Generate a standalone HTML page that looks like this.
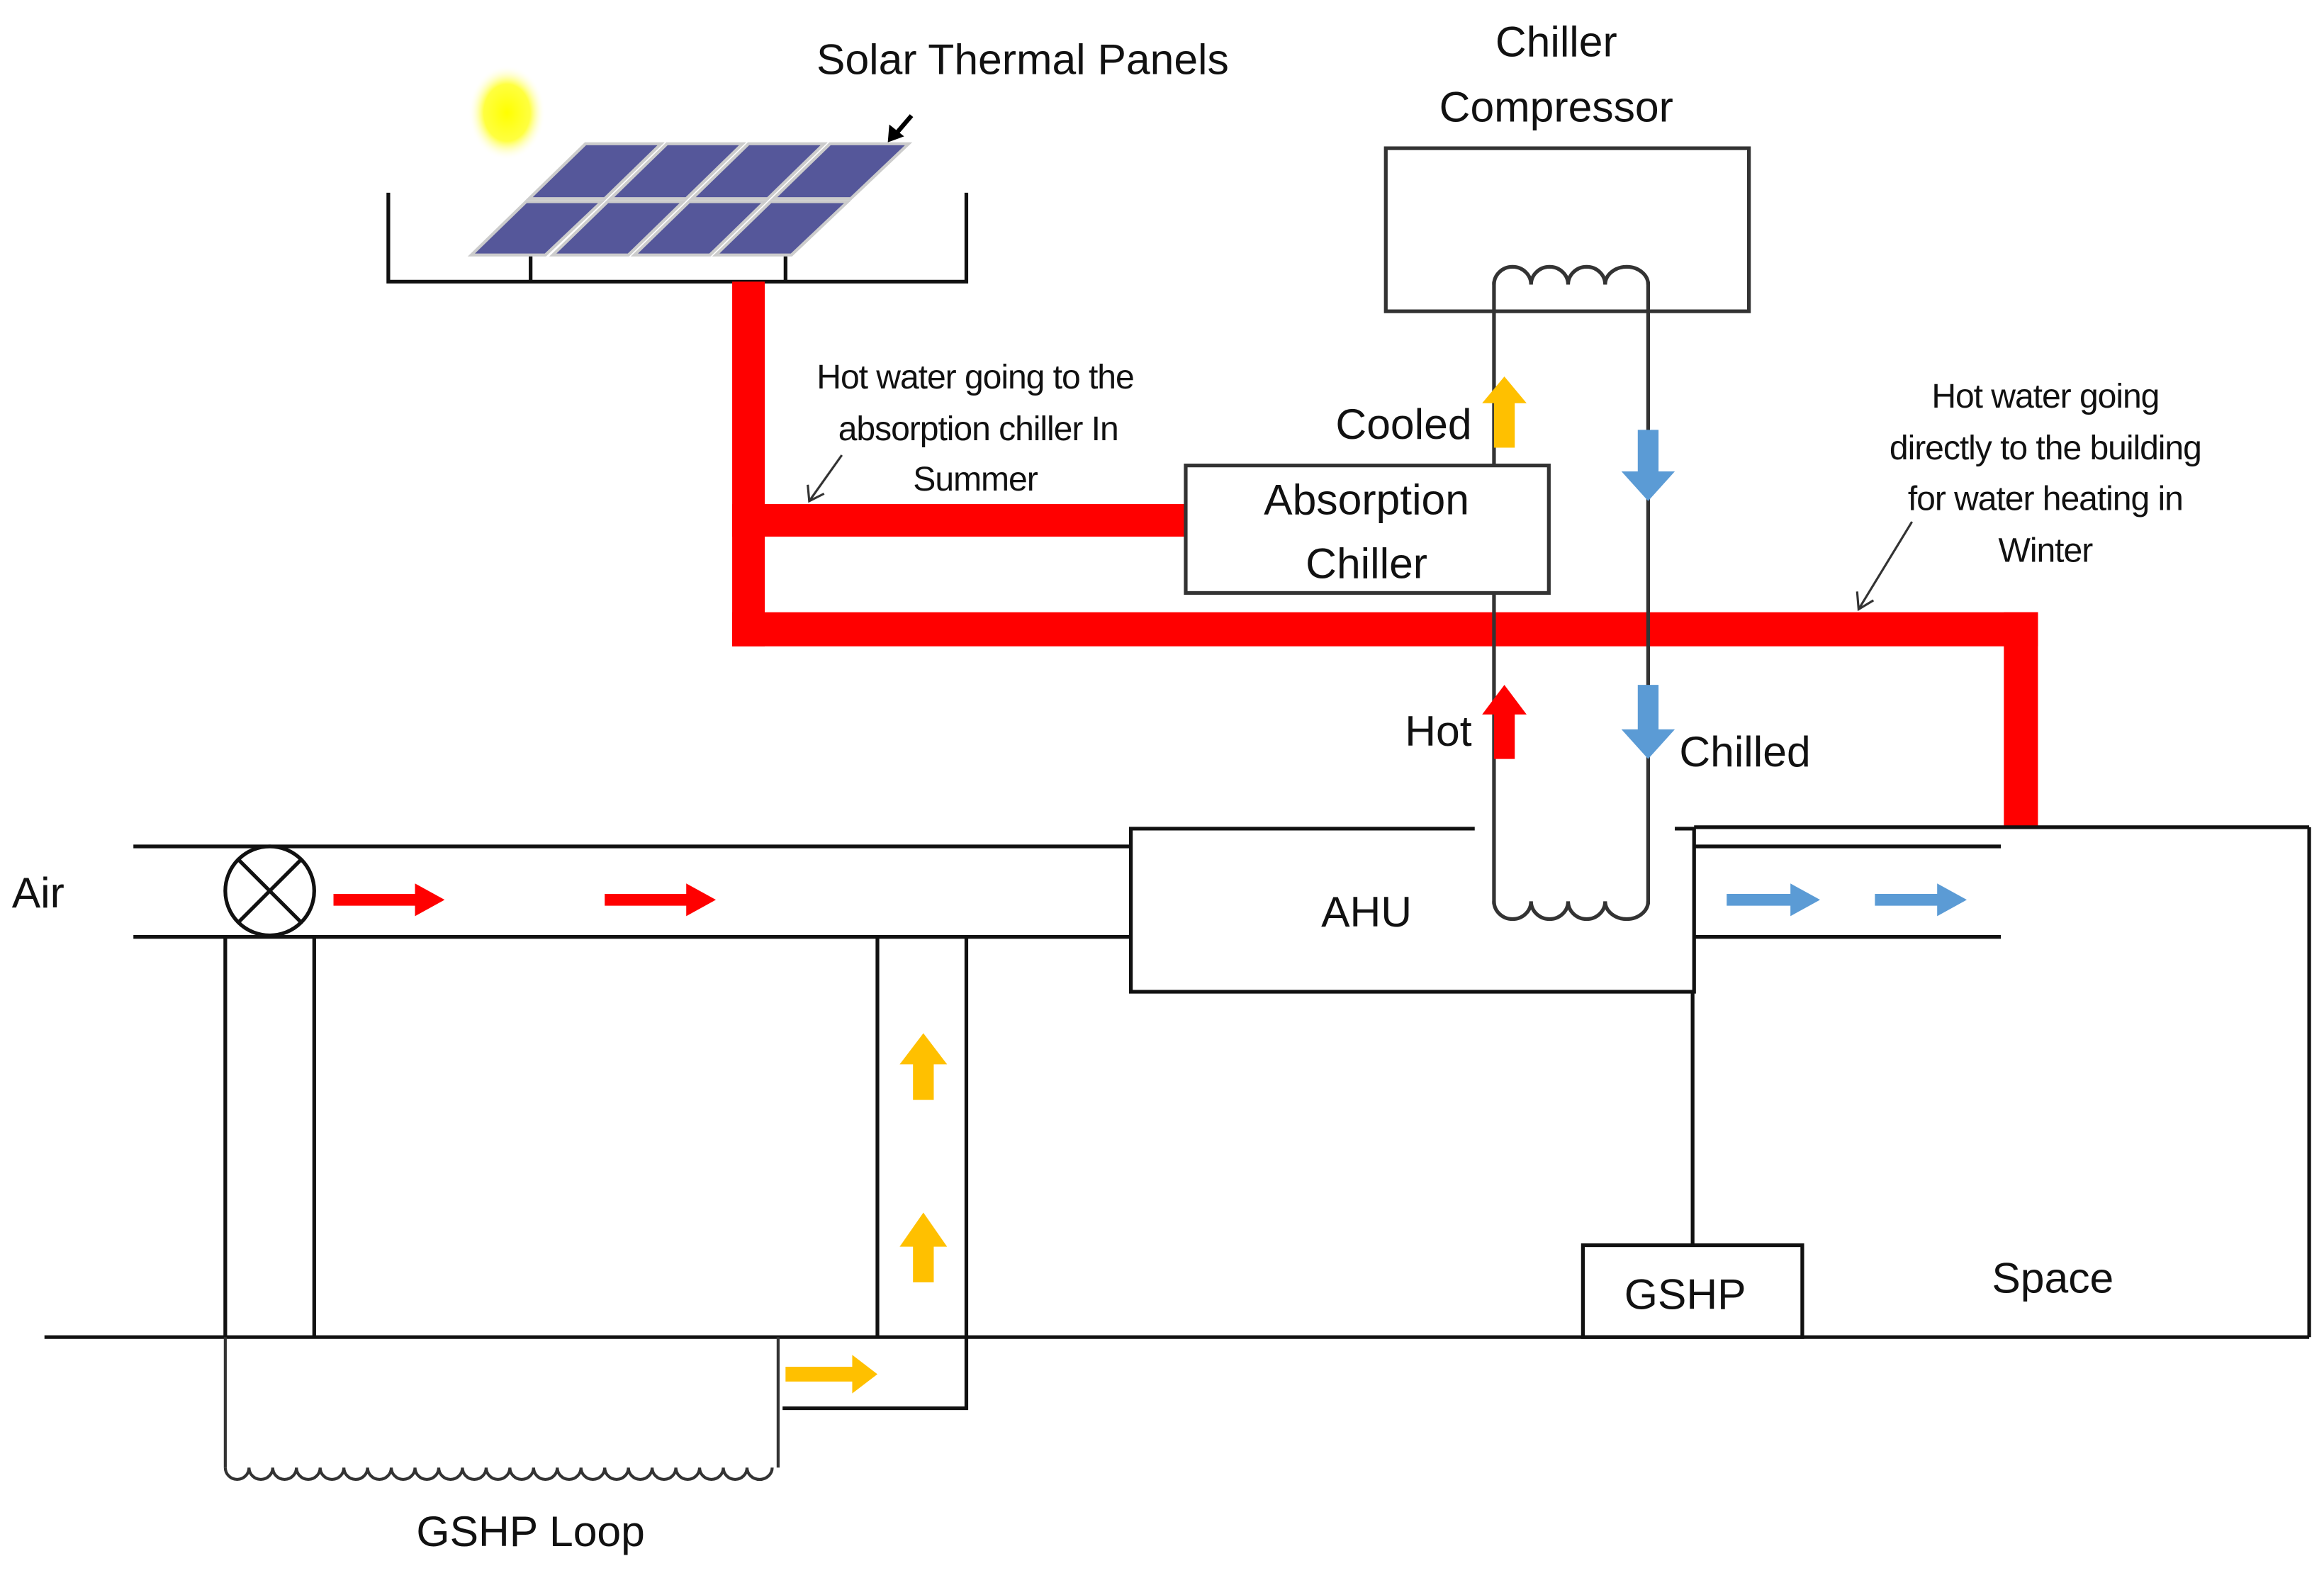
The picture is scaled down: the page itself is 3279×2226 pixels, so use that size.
<!DOCTYPE html>
<html><head><meta charset="utf-8"><style>
html,body{margin:0;padding:0;background:#fff}
svg{display:block}
text{font-family:"Liberation Sans",sans-serif;fill:#111}
.n{font-size:29px;text-anchor:middle}
.s{font-size:23px;text-anchor:middle;letter-spacing:-0.5px}
</style></head><body>
<svg width="3279" height="2226" viewBox="0 0 1568 1064.5" preserveAspectRatio="none" xmlns="http://www.w3.org/2000/svg">
<defs>
<radialGradient id="sun"><stop offset="0" stop-color="#ffff00"/><stop offset="0.6" stop-color="#ffff40"/><stop offset="1" stop-color="#fff" stop-opacity="0"/></radialGradient>
</defs>
<rect width="1568" height="1064.5" fill="#fff"/>
<ellipse cx="342" cy="76" rx="26" ry="32" fill="url(#sun)"/>
<g stroke="#111" stroke-width="2.5" fill="none">
<polyline points="262,130 262,190 652,190 652,130"/>
<line x1="358" y1="172" x2="358" y2="190"/><line x1="530" y1="172" x2="530" y2="190"/>
</g>
<g fill="#55579a" stroke="#ccc" stroke-width="2">
<polygon points="395,97 446,97 408,134 357,134"/><polygon points="450,97 501,97 463,134 412,134"/><polygon points="505,97 556,97 518,134 467,134"/><polygon points="560,97 613,97 574,134 522,134"/>
<polygon points="355,136 406,136 368,172 318,172"/><polygon points="410,136 461,136 424,172 373,172"/><polygon points="465,136 516,136 479,172 428,172"/><polygon points="520,136 572,136 534,172 483,172"/>
</g>
<line x1="615" y1="78" x2="603" y2="92" stroke="#000" stroke-width="3"/><polygon points="599,96 600,84 610,92" fill="#000"/>
<text class="n" x="690" y="50">Solar Thermal Panels</text>
<text class="n" x="1050" y="38">Chiller</text>
<text class="n" x="1050" y="82">Compressor</text>
<g fill="#ff0000">
<rect x="494" y="190" width="22" height="246"/>
<rect x="494" y="413" width="881" height="23"/>
<rect x="1352" y="413" width="23" height="146"/>
<rect x="494" y="340" width="306" height="22"/>
</g>
<g stroke="#333" stroke-width="2.5" fill="none">
<rect x="935" y="100" width="245" height="110"/>
<line x1="1008" y1="190" x2="1008" y2="610"/>
<line x1="1112" y1="190" x2="1112" y2="610"/>
<path d="M1008,192 a12.5,12 0 0 1 25,0 a12.5,12 0 0 1 25,0 a12.5,12 0 0 1 25,0 a14.5,12 0 0 1 29,0"/>
<path d="M1008,608 a12.5,12 0 0 0 25,0 a12.5,12 0 0 0 25,0 a12.5,12 0 0 0 25,0 a14.5,12 0 0 0 29,0"/>
</g>
<rect x="800" y="314" width="245" height="86" fill="#fff" stroke="#333" stroke-width="2.5"/>
<text class="n" x="922" y="347">Absorption</text>
<text class="n" x="922" y="390">Chiller</text>
<polygon points="1008,302 1008,272 1000,272 1015,254 1030,272 1022,272 1022,302" fill="#ffc000"/>
<polygon points="1105,290 1119,290 1119,318 1130,318 1112,338 1094,318 1105,318" fill="#5b9bd5"/>
<polygon points="1008,512 1008,482 1000,482 1015,462 1030,482 1022,482 1022,512" fill="#ff0000"/>
<polygon points="1105,462 1119,462 1119,492 1130,492 1112,512 1094,492 1105,492" fill="#5b9bd5"/>
<text class="n" x="993" y="296" style="text-anchor:end">Cooled</text>
<text class="n" x="993" y="503" style="text-anchor:end">Hot</text>
<text class="n" x="1133" y="517" style="text-anchor:start">Chilled</text>
<text class="s" x="658" y="262">Hot water going to the</text>
<text class="s" x="660" y="297">absorption chiller In</text>
<text class="s" x="658" y="331">Summer</text>
<g stroke="#333" stroke-width="1.5" fill="none">
<line x1="568" y1="307" x2="546" y2="338"/><polyline points="545,327 546,338 556,333"/>
<line x1="1290" y1="352" x2="1254" y2="411"/><polyline points="1253,399 1254,411 1264,405"/>
</g>
<text class="s" x="1380" y="275">Hot water going</text>
<text class="s" x="1380" y="310">directly to the building</text>
<text class="s" x="1380" y="344">for water heating in</text>
<text class="s" x="1380" y="379">Winter</text>
<g stroke="#111" stroke-width="2.5" fill="none">
<line x1="90" y1="571" x2="763" y2="571"/>
<line x1="90" y1="632" x2="763" y2="632"/>
<polyline points="995,559 763,559 763,669 1143,669 1143,559 1130,559"/>
<line x1="1143" y1="558" x2="1558" y2="558"/>
<line x1="1558" y1="558" x2="1558" y2="902"/>
<line x1="1143" y1="571" x2="1350" y2="571"/>
<line x1="1143" y1="632" x2="1350" y2="632"/>
<line x1="30" y1="902" x2="1558" y2="902"/>
<line x1="152" y1="632" x2="152" y2="902"/>
<line x1="212" y1="632" x2="212" y2="902"/>
<line x1="592" y1="632" x2="592" y2="902"/>
<polyline points="652,632 652,950 528,950"/>
<line x1="1142" y1="669" x2="1142" y2="840"/>
<rect x="1068" y="840" width="148" height="62"/>
<circle cx="182" cy="601" r="30" fill="#fff"/>
<line x1="161" y1="580" x2="203" y2="622"/><line x1="203" y1="580" x2="161" y2="622"/>
</g>
<g stroke="#333" stroke-width="2" fill="none">
<line x1="152" y1="902" x2="152" y2="990"/>
<line x1="525" y1="902" x2="525" y2="990"/>
<path d="M152,990 a8,8 0 0 0 16,0 a8,8 0 0 0 16,0 a8,8 0 0 0 16,0 a8,8 0 0 0 16,0 a8,8 0 0 0 16,0 a8,8 0 0 0 16,0 a8,8 0 0 0 16,0 a8,8 0 0 0 16,0 a8,8 0 0 0 16,0 a8,8 0 0 0 16,0 a8,8 0 0 0 16,0 a8,8 0 0 0 16,0 a8,8 0 0 0 16,0 a8,8 0 0 0 16,0 a8,8 0 0 0 16,0 a8,8 0 0 0 16,0 a8,8 0 0 0 16,0 a8,8 0 0 0 16,0 a8,8 0 0 0 16,0 a8,8 0 0 0 16,0 a8,8 0 0 0 16,0 a8,8 0 0 0 16,0 a8.5,8 0 0 0 17,0"/>
</g>
<polygon points="225,603 280,603 280,596 300,607 280,618 280,611 225,611" fill="#ff0000"/>
<polygon points="408,603 463,603 463,596 483,607 463,618 463,611 408,611" fill="#ff0000"/>
<polygon points="1165,603 1208,603 1208,596 1228,607 1208,618 1208,611 1165,611" fill="#5b9bd5"/>
<polygon points="1265,603 1307,603 1307,596 1327,607 1307,618 1307,611 1265,611" fill="#5b9bd5"/>
<polygon points="530,922 575,922 575,914 592,927 575,940 575,932 530,932" fill="#ffc000"/>
<polygon points="616,742 616,718 607,718 623,697 639,718 630,718 630,742" fill="#ffc000"/>
<polygon points="616,865 616,841 607,841 623,818 639,841 630,841 630,865" fill="#ffc000"/>
<text class="n" x="8" y="612" style="text-anchor:start">Air</text>
<text class="n" x="922" y="625">AHU</text>
<text class="n" x="1137" y="883">GSHP</text>
<text class="n" x="1385" y="872">Space</text>
<text class="n" x="358" y="1043">GSHP Loop</text>
</svg>
</body></html>
